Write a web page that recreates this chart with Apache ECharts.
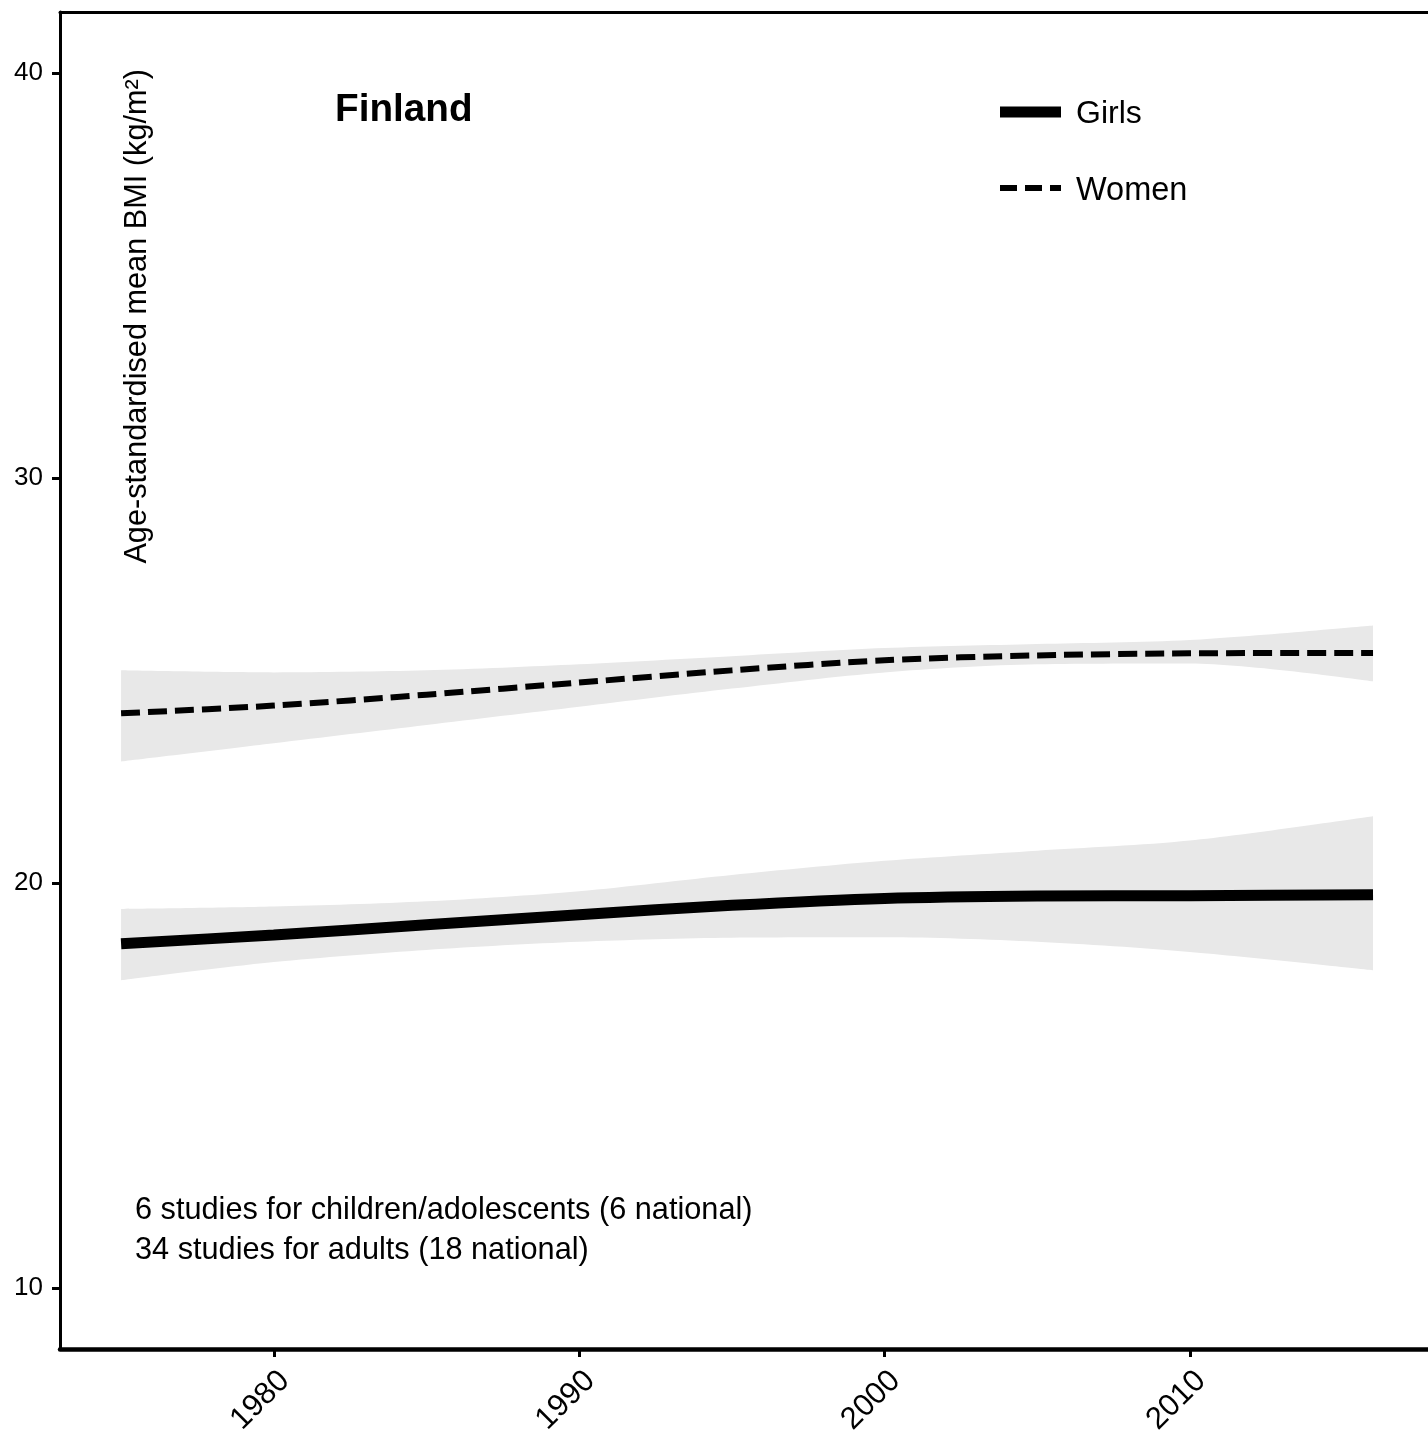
<!DOCTYPE html>
<html><head><meta charset="utf-8">
<script src="https://cdn.jsdelivr.net/npm/echarts@6/dist/echarts.min.js"></script>
<style>html,body{margin:0;padding:0;background:#fff}#c{width:1428px;height:1453px}</style>
</head><body><div id="c"></div>
<script>
const years = [1975, 1980, 1985, 1990, 1995, 2000, 2005, 2010, 2016];
const girlsMean  = [18.50, 18.72, 18.97, 19.22, 19.45, 19.62, 19.68, 19.69, 19.71];
const girlsLower = [17.60, 18.05, 18.35, 18.55, 18.65, 18.66, 18.55, 18.30, 17.85];
const girlsUpper = [19.36, 19.42, 19.55, 19.80, 20.20, 20.55, 20.80, 21.05, 21.65];
const womenMean  = [24.19, 24.38, 24.65, 24.95, 25.25, 25.50, 25.62, 25.67, 25.68];
const womenLower = [23.00, 23.45, 23.90, 24.35, 24.80, 25.20, 25.40, 25.42, 24.98];
const womenUpper = [25.25, 25.20, 25.25, 25.40, 25.60, 25.80, 25.90, 26.00, 26.36];
const xTickLabels = [1980, 1990, 2000, 2010];
const yTickLabels = [10, 20, 30, 40];
const legendNames = ['Girls', 'Women'];
const countryTitle = 'Finland';
const yTitle = 'Age-standardised mean BMI (kg/m²)';
const noteLines = ['6 studies for children/adolescents (6 national)', '34 studies for adults (18 national)'];

const FONT = '"Liberation Sans", Arial, Helvetica, sans-serif';
const BAND = '#e8e8e8';

// y-first pairs so stacking happens on the y value
const yx = (vals) => vals.map((v, i) => [v, years[i]]);
const diff = (up, lo) => up.map((u, i) => +(u - lo[i]).toFixed(3));

function bandSeries(stackId, lower, upper) {
  return [
    { type: 'line', stack: stackId, data: yx(lower), encode: { x: 1, y: 0 }, smooth: 0.3,
      symbol: 'none', lineStyle: { opacity: 0, width: 0 }, silent: true, z: 1 },
    { type: 'line', stack: stackId, data: yx(diff(upper, lower)), encode: { x: 1, y: 0 }, smooth: 0.3,
      symbol: 'none', lineStyle: { opacity: 0, width: 0 }, areaStyle: { color: BAND, opacity: 1 }, silent: true, z: 1 }
  ];
}

const X_MIN = 1973, X_MAX = 2017.8;
const chart = echarts.init(document.getElementById('c'), null, { renderer: 'canvas' });
chart.setOption({
  animation: false,
  backgroundColor: '#fff',
  grid: { left: 60, top: 12, right: 0, bottom: 104, show: false },
  xAxis: [{
    type: 'value', min: X_MIN, max: X_MAX,
    axisLine: { show: true, onZero: false, lineStyle: { color: '#000', width: 4.5 } },
    axisTick: { show: true, length: 8, lineStyle: { color: '#000', width: 3 },
      customValues: xTickLabels },
    axisLabel: { rotate: 45, fontSize: 31, color: '#000', fontFamily: FONT, margin: 16, verticalAlign: 'top',
      customValues: xTickLabels, formatter: v => String(v) },
    splitLine: { show: false }
  }, {
    type: 'value', position: 'top', min: X_MIN, max: X_MAX,
    axisLine: { show: true, onZero: false, lineStyle: { color: '#000', width: 3 } },
    axisTick: { show: false }, axisLabel: { show: false }, splitLine: { show: false }
  }],
  yAxis: {
    type: 'value', min: 8.5, max: 41.5,
    axisLine: { show: true, onZero: false, lineStyle: { color: '#000', width: 3 } },
    axisTick: { show: true, length: 8, lineStyle: { color: '#000', width: 3 }, customValues: yTickLabels },
    axisLabel: { fontSize: 26, color: '#000', fontFamily: FONT, margin: 17, customValues: yTickLabels },
    splitLine: { show: false }
  },
  series: [
    ...bandSeries('women', womenLower, womenUpper),
    ...bandSeries('girls', girlsLower, girlsUpper),
    { name: legendNames[1], type: 'line', data: womenMean.map((v, i) => [years[i], v]), smooth: 0.3,
      symbol: 'none', lineStyle: { color: '#000', width: 6, type: [19, 8], cap: 'butt' }, z: 3 },
    { name: legendNames[0], type: 'line', data: girlsMean.map((v, i) => [years[i], v]), smooth: 0.3,
      symbol: 'none', lineStyle: { color: '#000', width: 11, cap: 'butt' }, z: 3 }
  ],
  graphic: [
    { type: 'text', x: 335, y: 110, style: { text: countryTitle, font: 'bold 38.7px ' + FONT, fill: '#000', textVerticalAlign: 'middle' } },
    { type: 'line', shape: { x1: 1000, y1: 112, x2: 1061, y2: 112 }, style: { stroke: '#000', lineWidth: 11 } },
    { type: 'line', shape: { x1: 1000, y1: 188, x2: 1061, y2: 188 }, style: { stroke: '#000', lineWidth: 6, lineDash: [17, 8] } },
    { type: 'text', x: 1076, y: 114, style: { text: legendNames[0], font: '32px ' + FONT, fill: '#000', textVerticalAlign: 'middle' } },
    { type: 'text', x: 1076, y: 191, style: { text: legendNames[1], font: '32.5px ' + FONT, fill: '#000', textVerticalAlign: 'middle' } },
    { type: 'text', x: 138, y: 69, rotation: Math.PI / 2,
      style: { text: yTitle, font: '30.7px ' + FONT, fill: '#000', textAlign: 'right', textVerticalAlign: 'middle' } },
    { type: 'text', x: 135, y: 1211, style: { text: noteLines[0], font: '30.7px ' + FONT, fill: '#000', textVerticalAlign: 'middle' } },
    { type: 'text', x: 135, y: 1251, style: { text: noteLines[1], font: '30.7px ' + FONT, fill: '#000', textVerticalAlign: 'middle' } }
  ]
});
</script>
</body></html>
